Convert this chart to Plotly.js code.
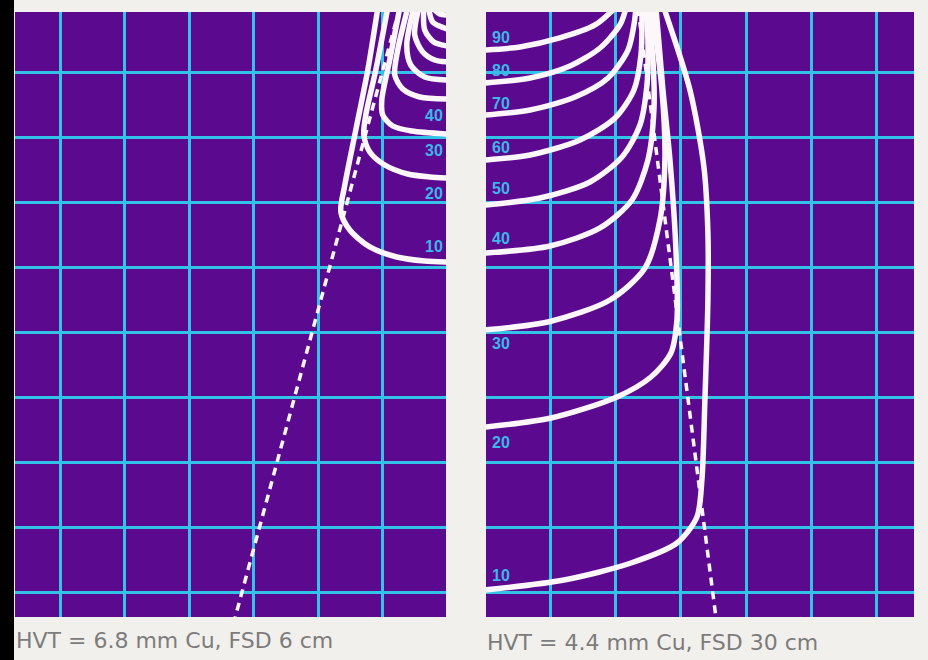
<!DOCTYPE html>
<html>
<head>
<meta charset="utf-8">
<script src="https://cdn.plot.ly/plotly-3.0.1.min.js"></script>
<style>html,body{margin:0;padding:0;background:#f2f0ec;}#chart{width:928px;height:660px;}</style>
</head>
<body>
<div id="chart"></div>
<script>
// ---- Data (depth in cm downward, lateral distance in cm from central axis) ----
const levels = [90, 80, 70, 60, 50, 40, 30, 20, 10];

// Left panel: HVT = 6.8 mm Cu, FSD 6 cm (left half of beam, central axis at right edge)
const L90x = [-0.21, -0.118, 0];            const L90y = [0.013, 0.091, 0.106];
const L80x = [-0.288, -0.226, 0];           const L80y = [0, 0.214, 0.322];
const L70x = [-0.365, -0.35, -0.21, 0];     const L70y = [0, 0.337, 0.522, 0.584];
const L60x = [-0.443, -0.505, -0.381, -0.195, 0]; const L60y = [0, 0.414, 0.676, 0.80, 0.83];
const L50x = [-0.52, -0.628, -0.567, -0.35, 0];   const L50y = [0, 0.568, 0.877, 1.062, 1.108];
const L40x = [-0.613, -0.768, -0.814, -0.69, -0.427, 0]; const L40y = [0, 0.645, 1.031, 1.247, 1.37, 1.401];
const L30x = [-0.737, -0.892, -1.015, -1.0, -0.845, -0.551, 0]; const L30y = [0, 0.80, 1.416, 1.648, 1.817, 1.894, 1.94];
const L20x = [-0.923, -1.108, -1.263, -1.294, -1.201, -0.969, -0.613, -0.272, 0];
const L20y = [0, 0.954, 1.647, 1.956, 2.218, 2.418, 2.557, 2.603, 2.619];
const L10x = [-1.077, -1.232, -1.418, -1.588, -1.65, -1.511, -1.201, -0.783, -0.35, 0];
const L10y = [0, 0.954, 1.879, 2.727, 3.143, 3.42, 3.682, 3.836, 3.898, 3.913];
const LedgeX = [-0.74, -3.29];  const LedgeY = [0, 9.4];
const leftLabels = [40, 30, 20, 10];
const leftLabelDepth = [1.648, 2.187, 2.85, 3.682];

// Right panel: HVT = 4.4 mm Cu, FSD 30 cm (right half of beam, central axis at left edge)
const R90x = [0, 0.54, 1.15, 1.688, 1.994]; const R90y = [0.646, 0.599, 0.46, 0.26, 0];
const R80x = [0, 0.694, 1.306, 1.765, 2.07, 2.162]; const R80y = [1.154, 1.077, 0.892, 0.615, 0.26, 0];
const R70x = [0, 0.694, 1.382, 1.888, 2.193, 2.284, 2.315]; const R70y = [1.648, 1.57, 1.37, 1.077, 0.646, 0.26, 0];
const R60x = [0, 0.694, 1.459, 1.994, 2.284, 2.391, 2.407]; const R60y = [2.341, 2.264, 2.033, 1.694, 1.262, 0.723, 0];
const R50x = [0, 0.847, 1.612, 2.101, 2.376, 2.483, 2.498, 2.468]; const R50y = [3.035, 2.927, 2.68, 2.295, 1.802, 1.185, 0.491, 0];
const R40x = [0, 1.0, 1.765, 2.254, 2.498, 2.59, 2.575, 2.498]; const R40y = [3.775, 3.667, 3.389, 2.958, 2.341, 1.57, 0.80, 0];
const R30x = [0, 1.0, 1.917, 2.453, 2.682, 2.758, 2.713, 2.56]; const R30y = [4.961, 4.83, 4.499, 4.006, 3.266, 2.341, 1.262, 0];
const R20x = [0, 1.015, 2.024, 2.544, 2.85, 2.942, 2.927, 2.835, 2.728, 2.621];
const R20y = [6.457, 6.318, 5.994, 5.686, 5.316, 4.807, 3.728, 2.341, 1.262, 0];
const R10x = [0, 1.214, 2.239, 2.942, 3.248, 3.324, 3.37, 3.416, 3.416, 3.355, 3.141, 2.743];
const R10y = [8.969, 8.815, 8.553, 8.245, 7.844, 7.274, 6.04, 4.499, 3.466, 2.449, 1.262, 0];
const RedgeX = [2.346, 3.538]; const RedgeY = [0, 9.385];
const rightLabels = [90, 80, 70, 60, 50, 40, 30, 20, 10];
const rightLabelDepth = [0.46, 0.954, 1.463, 2.141, 2.773, 3.544, 5.162, 6.688, 8.738];

const captions = ['HVT = 6.8 mm Cu, FSD 6 cm', 'HVT = 4.4 mm Cu, FSD 30 cm'];

// ---- Styles ----
const WHITE = '#fdf7fb';
const PURPLE = '#5b0a90';
const GRID = '#33c3e6';
const LABEL = '#3db6e8';

const leftSets = [[L90x,L90y],[L80x,L80y],[L70x,L70y],[L60x,L60y],[L50x,L50y],[L40x,L40y],[L30x,L30y],[L20x,L20y],[L10x,L10y]];
const rightSets = [[R90x,R90y],[R80x,R80y],[R70x,R70y],[R60x,R60y],[R50x,R50y],[R40x,R40y],[R30x,R30y],[R20x,R20y],[R10x,R10y]];

const traces = [];
traces.push({x: LedgeX, y: LedgeY, xaxis:'x', yaxis:'y', mode:'lines', line:{color:WHITE, width:3.5, dash:'8px,6px'}, hoverinfo:'skip'});
traces.push({x: RedgeX, y: RedgeY, xaxis:'x2', yaxis:'y2', mode:'lines', line:{color:WHITE, width:3.5, dash:'8px,6px'}, hoverinfo:'skip'});
leftSets.forEach((s, i) => traces.push({x:s[0], y:s[1], xaxis:'x', yaxis:'y', mode:'lines', name: levels[i]+'%',
  line:{color:WHITE, width:5.5, shape:'spline', smoothing:0.8}}));
rightSets.forEach((s, i) => traces.push({x:s[0], y:s[1], xaxis:'x2', yaxis:'y2', mode:'lines', name: levels[i]+'%',
  line:{color:WHITE, width:5.5, shape:'spline', smoothing:0.8}}));

const W = 928, H = 660;
const yDom = [1 - 617/H, 1 - 12/H];
const gridAxis = {showgrid:true, gridcolor:GRID, gridwidth:3, zeroline:false, showticklabels:false, ticks:'', dtick:1, tick0:0, showline:false, fixedrange:true};

const labelFont = {family:'Liberation Sans, Arial, sans-serif', size:16, color:LABEL, weight:'bold'};
const annotations = [];
leftLabels.forEach((v, i) => annotations.push({xref:'x', yref:'y', x:-0.03, y:leftLabelDepth[i], text:String(v), showarrow:false,
  xanchor:'right', yanchor:'middle', font:labelFont}));
rightLabels.forEach((v, i) => annotations.push({xref:'x2', yref:'y2', x:0.08, y:rightLabelDepth[i], text:String(v), showarrow:false,
  xanchor:'left', yanchor:'middle', font:labelFont}));
const capFont = {family:'DejaVu Sans, sans-serif', size:22, color:'#7c7c7c'};
annotations.push({xref:'paper', yref:'paper', x:14/W, y:1-640/H, text:captions[0], showarrow:false, xanchor:'left', yanchor:'middle', font:capFont});
annotations.push({xref:'paper', yref:'paper', x:485/W, y:1-642/H, text:captions[1], showarrow:false, xanchor:'left', yanchor:'middle', font:capFont});

const layout = {
  width: W, height: H,
  margin: {l:0, r:0, t:0, b:0},
  paper_bgcolor: '#f2f0ec',
  plot_bgcolor: PURPLE,
  showlegend: false,
  xaxis: Object.assign({}, gridAxis, {domain:[15/W, 446/W], range:[-6.70, -0.02], anchor:'y'}),
  yaxis: Object.assign({}, gridAxis, {domain:yDom, range:[9.385, 0.06], anchor:'x'}),
  xaxis2: Object.assign({}, gridAxis, {domain:[486/W, 914/W], range:[0.02, 6.57], anchor:'y2'}),
  yaxis2: Object.assign({}, gridAxis, {domain:yDom, range:[9.385, 0.06], anchor:'x2'}),
  shapes: [
    {type:'rect', xref:'paper', yref:'paper', x0:0, x1:14/W, y0:0, y1:1, fillcolor:'#000', line:{width:0}, layer:'above'}
  ],
  annotations: annotations
};

Plotly.newPlot('chart', traces, layout, {displayModeBar:false, staticPlot:true});
</script>
</body>
</html>
